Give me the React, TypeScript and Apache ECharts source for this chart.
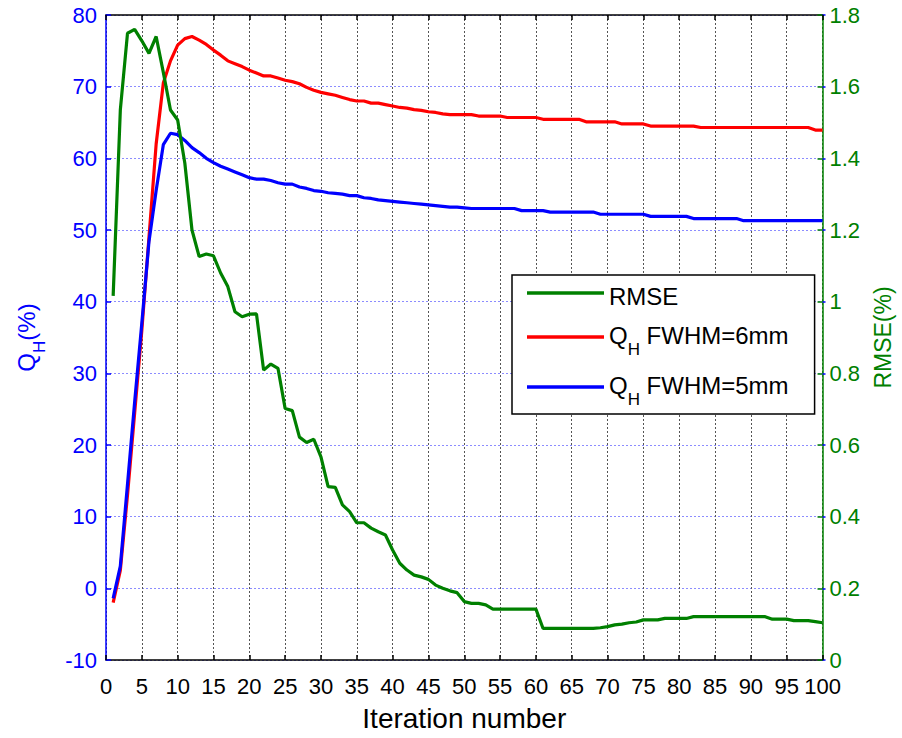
import React, { useEffect, useRef } from 'react';
import * as echarts from 'echarts';

const FONT = '"Liberation Sans", Arial, Helvetica, sans-serif';

// Iteration numbers (x axis)
const iterations: number[] = Array.from({ length: 100 }, (_, i) => i + 1);

// RMSE (%) – right axis
const rmse: number[] = [
  1.016, 1.535, 1.749, 1.76, 1.728, 1.693, 1.74, 1.64, 1.535, 1.507,
  1.387, 1.2, 1.126, 1.133, 1.128, 1.08, 1.042, 0.972, 0.958, 0.965,
  0.966, 0.809, 0.826, 0.814, 0.702, 0.696, 0.622, 0.607, 0.616, 0.567,
  0.484, 0.482, 0.433, 0.414, 0.383, 0.383, 0.368, 0.358, 0.349, 0.307,
  0.27, 0.251, 0.237, 0.232, 0.225, 0.209, 0.2, 0.193, 0.188, 0.163,
  0.158, 0.158, 0.154, 0.142, 0.142, 0.142, 0.142, 0.142, 0.142, 0.142,
  0.088, 0.088, 0.088, 0.088, 0.088, 0.088, 0.088, 0.088, 0.09, 0.093,
  0.098, 0.1, 0.104, 0.106, 0.112, 0.112, 0.112, 0.116, 0.116, 0.116,
  0.116, 0.121, 0.121, 0.121, 0.121, 0.121, 0.121, 0.121, 0.121, 0.121,
  0.121, 0.121, 0.114, 0.114, 0.114, 0.11, 0.11, 0.11, 0.107, 0.104,
];

// Q_H (%) FWHM = 6 mm – left axis
const qh6: number[] = [
  -2.0, 2.5, 13.0, 24.5, 36.0, 49.0, 62.0, 70.5, 73.6, 75.8,
  76.7, 77.0, 76.5, 75.9, 75.1, 74.4, 73.6, 73.2, 72.8, 72.3,
  71.9, 71.5, 71.5, 71.2, 70.9, 70.7, 70.4, 69.9, 69.5, 69.2,
  69.0, 68.8, 68.5, 68.2, 68.0, 68.0, 67.7, 67.7, 67.5, 67.3,
  67.1, 67.0, 66.8, 66.7, 66.5, 66.4, 66.2, 66.1, 66.1, 66.1,
  66.1, 65.9, 65.9, 65.9, 65.9, 65.7, 65.7, 65.7, 65.7, 65.7,
  65.45, 65.45, 65.45, 65.45, 65.45, 65.45, 65.1, 65.1, 65.1, 65.1,
  65.1, 64.8, 64.8, 64.8, 64.8, 64.5, 64.5, 64.5, 64.5, 64.5,
  64.5, 64.5, 64.3, 64.3, 64.3, 64.3, 64.3, 64.3, 64.3, 64.3,
  64.3, 64.3, 64.3, 64.3, 64.3, 64.3, 64.3, 64.3, 63.95, 63.95,
];

// Q_H (%) FWHM = 5 mm – left axis
const qh5: number[] = [
  -1.4, 3.1, 14.5, 26.0, 37.0, 48.4, 55.5, 61.9, 63.5, 63.3,
  62.5, 61.5, 60.8, 60.0, 59.4, 58.9, 58.5, 58.1, 57.7, 57.3,
  57.1, 57.1, 56.9, 56.6, 56.4, 56.4, 56.0, 55.8, 55.5, 55.4,
  55.2, 55.1, 55.0, 54.8, 54.8, 54.5, 54.4, 54.2, 54.1, 54.0,
  53.9, 53.8, 53.7, 53.6, 53.5, 53.4, 53.3, 53.2, 53.2, 53.1,
  53.0, 53.0, 53.0, 53.0, 53.0, 53.0, 53.0, 52.7, 52.7, 52.7,
  52.7, 52.5, 52.5, 52.5, 52.5, 52.5, 52.5, 52.5, 52.2, 52.2,
  52.2, 52.2, 52.2, 52.2, 52.2, 51.9, 51.9, 51.9, 51.9, 51.9,
  51.9, 51.6, 51.6, 51.6, 51.6, 51.6, 51.6, 51.6, 51.3, 51.3,
  51.3, 51.3, 51.3, 51.3, 51.3, 51.3, 51.3, 51.3, 51.3, 51.3,
];

const seriesNames = ['RMSE', 'Q_H FWHM=6mm', 'Q_H FWHM=5mm'];
const legendLabels: Record<string, string> = {
  'RMSE': '{r|RMSE}',
  'Q_H FWHM=6mm': '{n|Q}{s|H}{n| FWHM=6mm}',
  'Q_H FWHM=5mm': '{n|Q}{s|H}{n| FWHM=5mm}',
};

const GREEN = '#008000';
const RED = '#ff0000';
const BLUE = '#0000ff';

export default function App() {
  const ref = useRef<HTMLDivElement>(null);

  useEffect(() => {
    document.body.style.margin = '0';
    if (!ref.current) return;
    const chart = echarts.init(ref.current, null, { renderer: 'svg' });

    const option: any = {
      animation: false,
      backgroundColor: '#ffffff',
      grid: { left: 106, top: 15, width: 722, height: 645, containLabel: false },
      legend: {
        orient: 'vertical',
        left: 512,
        top: 275,
        data: seriesNames,
        icon: 'rect',
        itemWidth: 77,
        itemHeight: 3.5,
        itemGap: 15,
        padding: [3, 26, 6, 15],
        backgroundColor: '#ffffff',
        borderColor: '#000000',
        borderWidth: 1.5,
        borderRadius: 0,
        selectedMode: false,
        formatter: (name: string) => legendLabels[name] || name,
        textStyle: {
          fontFamily: FONT,
          fontSize: 24,
          color: '#000',
          rich: {
            r: { fontFamily: FONT, fontSize: 24, color: '#000', lineHeight: 30, padding: [6, 0, 0, 0], verticalAlign: 'top' },
            n: { fontFamily: FONT, fontSize: 24, color: '#000', lineHeight: 28, verticalAlign: 'top' },
            s: { fontFamily: FONT, fontSize: 17, color: '#000', lineHeight: 17, padding: [18, 0, 0, 0], verticalAlign: 'top' },
          },
        },
      },
      xAxis: [
        {
          type: 'value',
          position: 'bottom',
          min: 0,
          max: 100,
          interval: 5,
          name: 'Iteration number',
          nameLocation: 'middle',
          nameGap: 44,
          nameTextStyle: { fontFamily: FONT, fontSize: 28, color: '#000' },
          axisLine: { show: true, onZero: false, lineStyle: { color: '#000', width: 1.5 } },
          axisTick: { show: true, inside: true, length: 5, lineStyle: { color: '#000', width: 1.5 } },
          axisLabel: { color: '#000', fontFamily: FONT, fontSize: 22, margin: 15 },
          splitLine: { show: true, lineStyle: { color: '#555', width: 1, type: [2, 2] } },
        },
        {
          type: 'value',
          position: 'top',
          min: 0,
          max: 100,
          interval: 5,
          axisLine: { show: true, onZero: false, lineStyle: { color: '#000', width: 1.5 } },
          axisTick: { show: true, inside: true, length: 5, lineStyle: { color: '#000', width: 1.5 } },
          axisLabel: { show: false },
          splitLine: { show: false },
        },
      ],
      yAxis: [
        {
          type: 'value',
          position: 'left',
          min: -10,
          max: 80,
          interval: 10,
          name: '{q|Q}{h|H}{q|(%)}',
          nameLocation: 'middle',
          nameRotate: 90,
          nameGap: 64,
          nameTextStyle: {
            fontFamily: FONT,
            fontSize: 24,
            color: BLUE,
            rich: {
              q: { fontFamily: FONT, fontSize: 24, color: BLUE, lineHeight: 28, verticalAlign: 'top' },
              h: { fontFamily: FONT, fontSize: 17, color: BLUE, lineHeight: 17, padding: [17, 0, 0, 0], verticalAlign: 'top' },
            },
          },
          axisLine: { show: true, onZero: false, lineStyle: { color: BLUE, width: 1.5 } },
          axisTick: { show: true, inside: true, length: 5, lineStyle: { color: BLUE, width: 1.5 } },
          axisLabel: { color: BLUE, fontFamily: FONT, fontSize: 22, margin: 9 },
          splitLine: { show: true, lineStyle: { color: 'rgba(0,0,255,0.45)', width: 1, type: [2, 2] } },
        },
        {
          type: 'value',
          position: 'right',
          min: 0,
          max: 1.8,
          interval: 0.2,
          name: 'RMSE(%)',
          nameLocation: 'middle',
          nameRotate: 90,
          nameGap: 48,
          nameTextStyle: { fontFamily: FONT, fontSize: 23, color: GREEN },
          axisLine: { show: true, onZero: false, lineStyle: { color: GREEN, width: 1.5 } },
          axisTick: { show: true, inside: true, length: 5, lineStyle: { color: GREEN, width: 1.5 } },
          axisLabel: { color: GREEN, fontFamily: FONT, fontSize: 22, margin: 7 },
          splitLine: { show: false },
        },
        {
          // short blue outer ticks of the left scale, mirrored on the right edge
          type: 'value',
          position: 'right',
          offset: 0,
          min: -10,
          max: 80,
          interval: 10,
          axisLine: { show: false, onZero: false },
          axisTick: { show: true, inside: false, length: 3, lineStyle: { color: BLUE, width: 1.5 } },
          axisLabel: { show: false },
          splitLine: { show: false },
        },
      ],
      series: [
        {
          name: 'Q_H FWHM=6mm',
          type: 'line',
          xAxisIndex: 0,
          yAxisIndex: 0,
          data: iterations.map((it, i) => [it, qh6[i]]),
          symbol: 'none',
          showSymbol: false,
          lineStyle: { color: RED, width: 3.2 },
          itemStyle: { color: RED },
        },
        {
          name: 'Q_H FWHM=5mm',
          type: 'line',
          xAxisIndex: 0,
          yAxisIndex: 0,
          data: iterations.map((it, i) => [it, qh5[i]]),
          symbol: 'none',
          showSymbol: false,
          lineStyle: { color: BLUE, width: 3.2 },
          itemStyle: { color: BLUE },
        },
        {
          name: 'RMSE',
          type: 'line',
          xAxisIndex: 0,
          yAxisIndex: 1,
          data: iterations.map((it, i) => [it, rmse[i]]),
          symbol: 'none',
          showSymbol: false,
          lineStyle: { color: GREEN, width: 3.2 },
          itemStyle: { color: GREEN },
        },
      ],
    };

    chart.setOption(option);
    return () => {
      chart.dispose();
    };
  }, []);

  return (
    <div
      ref={ref}
      style={{ position: 'absolute', left: 0, top: 0, width: 902, height: 738 }}
    />
  );
}
